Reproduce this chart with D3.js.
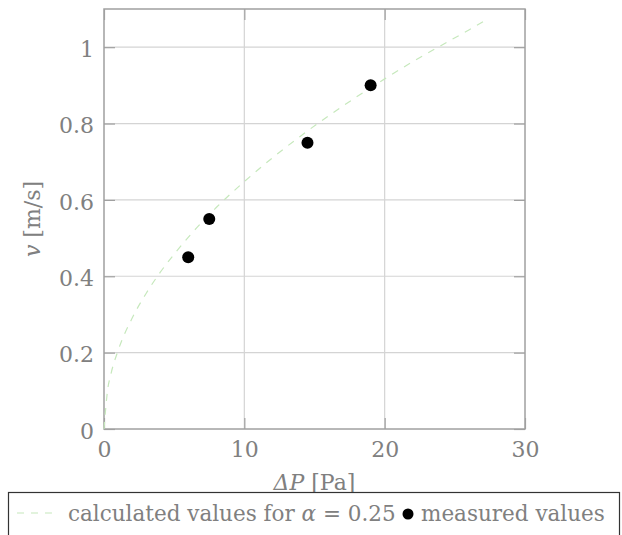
<!DOCTYPE html>
<html>
<head>
<meta charset="utf-8">
<script src="https://cdn.jsdelivr.net/npm/d3@7"></script>
<style>
  body { margin: 0; background: #fff; }
</style>
</head>
<body>
<div id="container"></div>
<script>
// measured points
var measP = [6, 7.5, 14.5, 19];
var measV = [0.45, 0.55, 0.75, 0.9];

// calculated curve
var calcP = [0, 0.25, 0.5, 1, 2, 3, 4, 5, 6, 8, 10, 12, 14, 16, 18, 20, 22, 24, 26, 27.4];
var calcV = [0, 0.10, 0.145, 0.205, 0.29, 0.355, 0.41, 0.458, 0.502, 0.58, 0.648, 0.71, 0.767, 0.82, 0.87, 0.917, 0.962, 1.004, 1.045, 1.075];

var xTicks = [0, 10, 20, 30];
var yTicks = [0, 0.2, 0.4, 0.6, 0.8, 1];

var W = 622, H = 535;
var margin = {top: 9, right: 97, bottom: 106, left: 104};
var width = W - margin.left - margin.right;
var height = H - margin.top - margin.bottom;
var serif = "'DejaVu Serif', 'Liberation Serif', serif";
var grey = "#808080";

var svg = d3.select("#container").append("svg")
	.attr("width", W)
	.attr("height", H)
	.attr("font-family", serif);

var g = svg.append("g")
	.attr("transform", "translate(" + margin.left + "," + margin.top + ")");

var x = d3.scaleLinear().domain([0, 30]).range([0, width]);
var y = d3.scaleLinear().domain([0, 1.1]).range([height, 0]);

// grid
g.append("g")
	.selectAll("line")
	.data(xTicks.slice(1, -1))
	.enter().append("line")
	.attr("x1", d => x(d)).attr("x2", d => x(d))
	.attr("y1", 0).attr("y2", height)
	.attr("stroke", "#d4d4d4").attr("stroke-width", 1.2);

g.append("g")
	.selectAll("line")
	.data(yTicks.slice(1))
	.enter().append("line")
	.attr("y1", d => y(d)).attr("y2", d => y(d))
	.attr("x1", 0).attr("x2", width)
	.attr("stroke", "#d4d4d4").attr("stroke-width", 1.2);

// axes with inward ticks, mirrored on the opposite sides
var tl = 11;
var xAxis = d3.axisBottom(x).tickValues(xTicks).tickSize(-tl).tickPadding(12).tickFormat(d3.format("d"));
var xAxisTop = d3.axisTop(x).tickValues(xTicks).tickSize(-tl).tickFormat("");
var yAxis = d3.axisLeft(y).tickValues(yTicks).tickSize(-tl).tickPadding(10)
	.tickFormat(d => d === 0 || d === 1 ? d3.format("d")(d) : d3.format(".1f")(d));
var yAxisRight = d3.axisRight(y).tickValues(yTicks).tickSize(-tl).tickFormat("");

function styleAxis(sel) {
	sel.attr("font-family", serif).attr("font-size", 22);
	sel.select(".domain").remove();
	sel.selectAll(".tick line").attr("stroke", "#a0a0a0").attr("stroke-width", 1.2);
	sel.selectAll(".tick text").attr("fill", grey);
}

g.append("g").attr("transform", "translate(0," + height + ")").call(xAxis).call(styleAxis);
g.append("g").call(xAxisTop).call(styleAxis);
g.append("g").call(yAxis).call(styleAxis)
	.selectAll(".tick text").attr("dy", "0.42em");
g.append("g").attr("transform", "translate(" + width + ",0)").call(yAxisRight).call(styleAxis);

// frame
g.append("rect")
	.attr("x", 0).attr("y", 0)
	.attr("width", width).attr("height", height)
	.attr("fill", "none")
	.attr("stroke", "#a0a0a0")
	.attr("stroke-width", 1.5);

// calculated curve
var line = d3.line()
	.x((d, i) => x(calcP[i]))
	.y((d, i) => y(calcV[i]))
	.curve(d3.curveMonotoneX);

g.append("path")
	.attr("d", line(calcP))
	.attr("fill", "none")
	.attr("stroke", "#c6e8bc")
	.attr("stroke-width", 1.2)
	.attr("stroke-dasharray", "7 7");

// measured points
g.selectAll(".dot")
	.data(measP)
	.enter().append("circle")
	.attr("class", "dot")
	.attr("cx", (d, i) => x(measP[i]))
	.attr("cy", (d, i) => y(measV[i]))
	.attr("r", 6)
	.attr("fill", "#000");

// axis labels
var xl = svg.append("text")
	.attr("x", margin.left + width / 2)
	.attr("y", 490)
	.attr("text-anchor", "middle")
	.attr("fill", grey)
	.attr("font-size", 22);
xl.append("tspan").attr("font-style", "italic").text("ΔP");
xl.append("tspan").text(" [Pa]");

var yl = svg.append("text")
	.attr("transform", "translate(40," + (margin.top + height / 2) + ") rotate(-90)")
	.attr("text-anchor", "middle")
	.attr("fill", grey)
	.attr("font-size", 22);
yl.append("tspan").attr("font-style", "italic").text("v");
yl.append("tspan").text(" [m/s]");

// legend
svg.append("rect")
	.attr("x", 8.5).attr("y", 492.5)
	.attr("width", 611).attr("height", 60)
	.attr("fill", "#fff")
	.attr("stroke", "#333")
	.attr("stroke-width", 1.2);

svg.append("line")
	.attr("x1", 17).attr("x2", 58)
	.attr("y1", 513).attr("y2", 513)
	.attr("stroke", "#c6e8bc")
	.attr("stroke-width", 1.2)
	.attr("stroke-dasharray", "7 7");

var lt = svg.append("text")
	.attr("x", 68).attr("y", 521)
	.attr("fill", grey)
	.attr("font-size", 21.5);
lt.append("tspan").text("calculated values for ");
lt.append("tspan").attr("font-style", "italic").text("α");
lt.append("tspan").text(" = 0.25");

svg.append("circle")
	.attr("cx", 408).attr("cy", 514)
	.attr("r", 5.5)
	.attr("fill", "#000");

svg.append("text")
	.attr("x", 421).attr("y", 521)
	.attr("fill", grey)
	.attr("font-size", 21.5)
	.text("measured values");
</script>
</body>
</html>
